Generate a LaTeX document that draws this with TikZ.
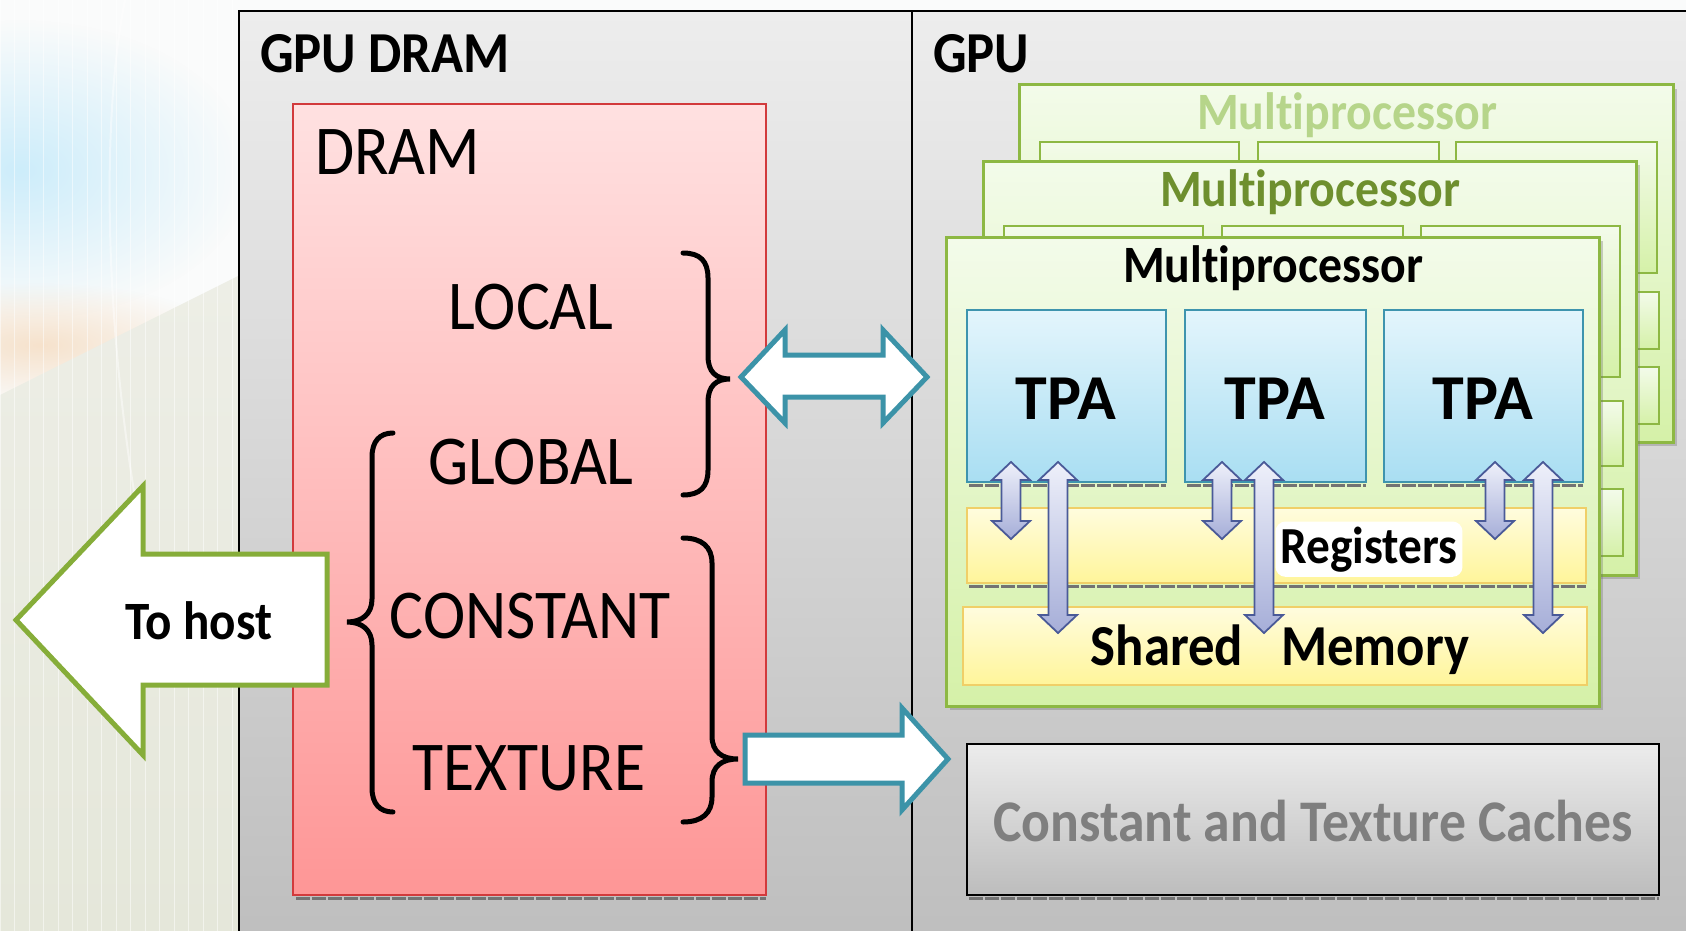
\documentclass[tikz,border=0pt]{standalone}
\usepackage{fontspec}
\setmainfont{Carlito}[FakeStretch=0.91, Ligatures=NoCommon]
\newfontfamily\widefont{Carlito}[Ligatures=NoCommon]
\usetikzlibrary{fit,fadings}

\definecolor{bgTop}{HTML}{FAFBFB}
\definecolor{bgPeach}{HTML}{F6E2CC}
\definecolor{bgMid}{HTML}{EDEEE6}
\definecolor{bgLow}{HTML}{E5E7DA}
\definecolor{bgBlue}{HTML}{CDEDFA}
\definecolor{panelTop}{HTML}{EDEDED}
\definecolor{panelBot}{HTML}{BEBEBE}
\definecolor{dramTop}{HTML}{FFE1E1}
\definecolor{dramBot}{HTML}{FE9696}
\definecolor{dramLine}{HTML}{D23A3C}
\definecolor{arrowTeal}{HTML}{3C93A8}
\definecolor{hostGreen}{HTML}{86AD39}
\definecolor{cardLine}{HTML}{8DB843}
\definecolor{cardTop}{HTML}{F3FBEA}
\definecolor{cardBot}{HTML}{D5F1A8}
\definecolor{tpaTop}{HTML}{E3F5FC}
\definecolor{tpaBot}{HTML}{A9DEF2}
\definecolor{tpaLine}{HTML}{3E94AE}
\definecolor{memTop}{HTML}{FFFCDE}
\definecolor{memBot}{HTML}{FFF59A}
\definecolor{memLine}{HTML}{F0CF68}
\definecolor{lavTop}{HTML}{EEF0FA}
\definecolor{lavBot}{HTML}{A6AED8}
\definecolor{lavLine}{HTML}{4A5A98}
\definecolor{cacheTop}{HTML}{ECECEC}
\definecolor{cacheBot}{HTML}{BDBDBD}
\definecolor{cacheText}{HTML}{7F7F7F}
\definecolor{mpMid}{HTML}{6E8F2E}
\definecolor{mpBack}{HTML}{B6D58A}

\tikzfading[name=softblob, inner color=transparent!0, outer color=transparent!100]

\tikzset{
  panel/.style={draw=black, line width=2pt, top color=panelTop, bottom color=panelBot},
  drambox/.style={draw=dramLine, line width=2pt, top color=dramTop, bottom color=dramBot},
  card/.style={draw=cardLine, line width=3pt, top color=cardTop, bottom color=cardBot},
  cardshadow/.style={fill=black!55, opacity=0.35},
  ghost/.style={draw=cardLine, line width=2.5pt, top color=cardTop, bottom color=cardBot},
  tpabox/.style={draw=tpaLine, line width=2.5pt, top color=tpaTop, bottom color=tpaBot},
  membox/.style={draw=memLine, line width=2.5pt, top color=memTop, bottom color=memBot},
  cachebox/.style={draw=black, line width=2pt, top color=cacheTop, bottom color=cacheBot},
  tickshadow/.style={draw=black!55, line width=3pt, dash pattern=on 14pt off 2pt},
  flowarrow/.style={draw=arrowTeal, fill=white, line width=5pt, line join=miter},
  hostarrow/.style={draw=hostGreen, fill=white, line width=5pt, line join=miter},
  memarrow/.style={draw=lavLine, line width=1.8pt, top color=lavTop, bottom color=lavBot, line join=miter},
  bracepath/.style={draw=black, line width=5pt, line cap=round},
  lbl/.style={inner sep=0pt, anchor=base},
  titletxt/.style={lbl, anchor=base west, font=\fontsize{58}{60}\selectfont\bfseries},
  memtxt/.style={lbl, font=\fontsize{70}{72}\selectfont},
  tpatxt/.style={lbl, font=\widefont\fontsize{64}{68}\selectfont\bfseries},
  mptxt/.style={lbl, font=\fontsize{52.5}{55}\selectfont\bfseries},
  regtxt/.style={lbl, font=\fontsize{52}{54}\selectfont\bfseries},
  shmtxt/.style={lbl, font=\fontsize{58}{60}\selectfont\bfseries},
  cachetxt/.style={lbl, text=cacheText, font=\fontsize{59}{61}\selectfont\bfseries},
  hosttxt/.style={lbl, font=\fontsize{54}{56}\selectfont\bfseries},
}

% rectangle node spanning two corners: name, style, x1, y1, x2, y2
\newcommand\boxat[6]{%
  \path (#3,#4) coordinate (#1-nw) (#5,#6) coordinate (#1-se);
  \node[fit=(#1-nw)(#1-se), inner sep=0pt, outer sep=0pt, #2] (#1) {};}

% vertical block double arrow: x, top tip, bottom tip
\newcommand\vlink[3]{%
  \shade[memarrow] (#1,#2) -- (#1+19,#2+18) -- (#1+9.5,#2+18) -- (#1+9.5,#3-18)
    -- (#1+19,#3-18) -- (#1,#3) -- (#1-19,#3-18) -- (#1-9.5,#3-18)
    -- (#1-9.5,#2+18) -- (#1-19,#2+18) -- cycle;}

% multiprocessor card with its shadow: name, left, top, right, bottom
\newcommand\mpcard[5]{%
  \fill[cardshadow] (#2+4,#3+4) rectangle (#4+4,#5+4);
  \boxat{#1}{card}{#2}{#3}{#4}{#5}}

\begin{document}
\begin{tikzpicture}[x=1pt, y=-1pt]
\useasboundingbox (0,0) rectangle (1686,931);

% slide backdrop
\fill[bgTop] (0,0) rectangle (1686,20);
\begin{scope}
  \clip (0,0) rectangle (240,931);
  \fill[bgTop] (0,0) rectangle (240,931);
  \fill[bgBlue, path fading=softblob] (20,170) ellipse [x radius=230, y radius=150];
  \fill[bgPeach, path fading=softblob] (40,345) ellipse [x radius=190, y radius=62];
  \shade[top color=bgMid, bottom color=bgLow] (0,395) -- (240,275) -- (240,931) -- (0,931) -- cycle;
  \draw[white, line width=2pt, opacity=0.45] (125,0) .. controls (95,150) and (110,420) .. (160,620);
  \draw[white, line width=0.8pt, opacity=0.5, step=14.5] (0,0) grid (240,931);
\end{scope}

% the two panels
\boxat{dramPanel}{panel}{239}{11}{912}{945}
\boxat{gpuPanel}{panel}{912}{11}{1700}{945}
\node[titletxt] (tDram) at (260,73) {GPU DRAM};
\node[titletxt] (tGpu) at (933,73) {GPU};

% device memory
\draw[tickshadow] (296,898) -- (766,898);
\boxat{dram}{drambox}{293}{104}{766}{895}
\node[memtxt, anchor=base west] (dramLbl) at (315,175) {DRAM};
\node[memtxt] (local) at (531,329) {LOCAL};
\node[memtxt] (global) at (531,484) {GLOBAL};
\node[memtxt] (constant) at (530,638) {CONSTANT};
\node[memtxt] (texture) at (529,790) {TEXTURE};

% braces grouping the spaces
\draw[bracepath] (683,253) .. controls (700,253) and (708,261) .. (708,278) -- (708,356)
  .. controls (708,372) and (716,379) .. (730,379)
  .. controls (716,379) and (708,386) .. (708,402) -- (708,470)
  .. controls (708,487) and (700,495) .. (683,495);
\draw[bracepath] (683,538) .. controls (702,538) and (712,547) .. (712,563) -- (712,736)
  .. controls (712,752) and (722,759) .. (738,759)
  .. controls (722,759) and (712,766) .. (712,782) -- (712,797)
  .. controls (712,813) and (702,822) .. (683,822);
\draw[bracepath] (393,433) .. controls (380,433) and (372,441) .. (372,457) -- (372,599)
  .. controls (372,614) and (362,622) .. (347,622)
  .. controls (362,622) and (372,630) .. (372,645) -- (372,788)
  .. controls (372,804) and (380,812) .. (393,812);

% back multiprocessor
\mpcard{mpC}{1019}{85}{1673}{442}
\boxat{mpCa}{ghost}{1040}{142}{1239}{273}
\boxat{mpCb}{ghost}{1258}{142}{1439}{273}
\boxat{mpCc}{ghost}{1456}{142}{1657}{273}
\boxat{mpCr}{ghost}{1040}{292}{1659}{349}
\boxat{mpCs}{ghost}{1038}{367}{1659}{424}
\node[mptxt, text=mpBack] (mpClbl) at (1347,130) {Multiprocessor};

% middle multiprocessor
\mpcard{mpB}{983}{161}{1636}{575}
\boxat{mpBa}{ghost}{1004}{226}{1203}{377}
\boxat{mpBb}{ghost}{1222}{226}{1403}{377}
\boxat{mpBc}{ghost}{1421}{226}{1620}{377}
\boxat{mpBr}{ghost}{1004}{401}{1623}{466}
\boxat{mpBs}{ghost}{1001}{489}{1623}{556}
\node[mptxt, text=mpMid] (mpBlbl) at (1310,206) {Multiprocessor};

% front multiprocessor
\mpcard{mpA}{946}{237}{1599}{706}
\node[mptxt] (mpAlbl) at (1273,282) {Multiprocessor};
\draw[tickshadow] (969,485) -- (1166,485) (1187,485) -- (1366,485) (1386,485) -- (1583,485);
\boxat{tpa1}{tpabox}{967}{310}{1166}{482}
\boxat{tpa2}{tpabox}{1185}{310}{1366}{482}
\boxat{tpa3}{tpabox}{1384}{310}{1583}{482}
\node[tpatxt] (tpa1lbl) at (1066,419) {TPA};
\node[tpatxt] (tpa2lbl) at (1275,419) {TPA};
\node[tpatxt] (tpa3lbl) at (1483,419) {TPA};
\draw[tickshadow] (969,586) -- (1586,586);
\boxat{regs}{membox}{967}{508}{1586}{583}
\boxat{shmem}{membox}{963}{607}{1587}{685}

% paths between the processors and on-chip memory
\vlink{1011}{462}{539}
\vlink{1058}{462}{633}
\vlink{1222}{462}{539}
\vlink{1264}{462}{633}
\vlink{1495}{462}{539}
\vlink{1543}{462}{633}

\node[regtxt, fill=white, rounded corners=10pt, inner sep=5pt] (regsLbl) at (1369,563) {Registers};
\node[shmtxt] (shmemLbl) at (1280,665) {Shared\hspace{38pt}Memory};

% read-only caches
\draw[tickshadow] (969,898) -- (1659,898);
\boxat{caches}{cachebox}{967}{744}{1659}{895}
\node[cachetxt] (cachesLbl) at (1313,841) {Constant and Texture Caches};

% transfers between device memory and the chip
\draw[flowarrow] (741,377) -- (785,330) -- (785,355) -- (883,355) -- (883,330) -- (927,377)
  -- (883,423) -- (883,397) -- (785,397) -- (785,423) -- cycle;
\draw[flowarrow] (745,735) -- (902,735) -- (902,708) -- (948,759) -- (902,810)
  -- (902,783) -- (745,783) -- cycle;

% transfer to the host
\draw[hostarrow] (16,620) -- (143,486) -- (143,554) -- (327,554) -- (327,685)
  -- (143,685) -- (143,755) -- cycle;
\node[hosttxt] (toHost) at (199,639) {To host};
\end{tikzpicture}
\end{document}
